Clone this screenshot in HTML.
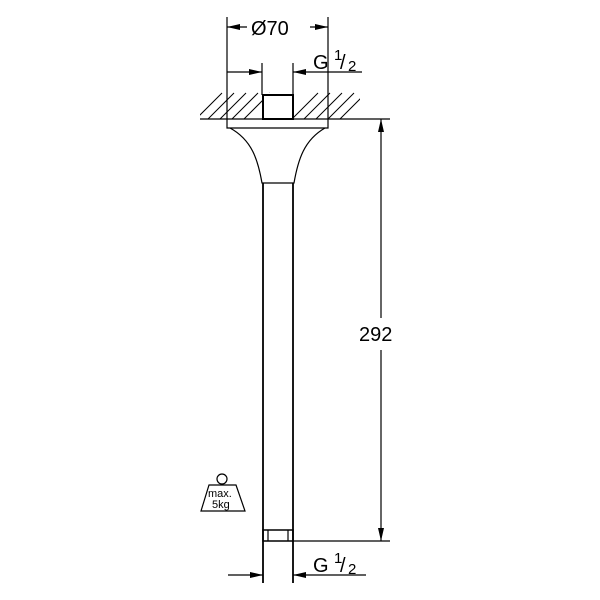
<!DOCTYPE html>
<html><head><style>body{margin:0;background:#fff}svg{display:block}</style></head><body>
<svg width="600" height="600" viewBox="0 0 600 600" xmlns="http://www.w3.org/2000/svg" font-family="Liberation Sans, sans-serif">
<defs>
<clipPath id="hc"><rect x="200" y="92" width="160" height="27"/></clipPath>
</defs>
<g stroke="#000" fill="none" stroke-width="1.2">
<g clip-path="url(#hc)" stroke-width="1">
<path d="M196,119l26,-26M208,119l26,-26M220,119l26,-26M232,119l26,-26M244,119l26,-26M292,119l26,-26M304,119l26,-26M316,119l26,-26M328,119l26,-26M340,119l26,-26"/>
</g>
<rect x="262" y="93" width="31" height="27" fill="#fff" stroke="none"/>
<line x1="200" y1="119" x2="390" y2="119"/>
<rect x="263" y="95" width="30" height="24" stroke-width="2"/>
<path d="M227,119V128H328V119"/>
<path d="M230,128C252,140 258,160 262,183H294C298,160 304,140 325,128"/>
<line x1="263" y1="183" x2="263" y2="583" stroke-width="1.8"/>
<line x1="293" y1="183" x2="293" y2="583" stroke-width="1.8"/>
<rect x="263" y="530" width="30" height="11" stroke-width="1.5"/>
<line x1="268" y1="530" x2="268" y2="541"/><line x1="288" y1="530" x2="288" y2="541"/>
<line x1="293" y1="541" x2="390" y2="541"/>
<line x1="227" y1="17" x2="227" y2="119"/><line x1="328" y1="17" x2="328" y2="119"/>
<line x1="262" y1="63" x2="262" y2="95"/><line x1="293" y1="63" x2="293" y2="95"/>
<line x1="227" y1="27" x2="247" y2="27"/><line x1="310" y1="27" x2="328" y2="27"/>
<line x1="227" y1="72" x2="262" y2="72"/><line x1="293" y1="72" x2="362" y2="72"/>
<line x1="228" y1="575" x2="263" y2="575"/><line x1="293" y1="575" x2="366" y2="575"/>
<line x1="381" y1="119" x2="381" y2="318"/><line x1="381" y1="350" x2="381" y2="541"/>
</g>
<g fill="#000">
<path d="M227,27l13,-3v6z"/><path d="M328,27l-13,-3v6z"/>
<path d="M262,72l-13,-3v6z"/><path d="M293,72l13,-3v6z"/>
<path d="M263,575l-13,-3v6z"/><path d="M293,575l13,-3v6z"/>
<path d="M381,119l-3,13h6z"/><path d="M381,541l-3,-13h6z"/>
</g>
<g font-size="20">
<text x="251" y="35">Ø70</text>
<text x="313" y="69">G</text><text x="334" y="60" font-size="15">1</text><text x="340" y="69">/</text><text x="348" y="71" font-size="15">2</text>
<text x="313" y="572">G</text><text x="334" y="563" font-size="15">1</text><text x="340" y="572">/</text><text x="348" y="574" font-size="15">2</text>
<text x="359" y="341">292</text>
</g>
<g stroke="#000" fill="none" stroke-width="1.2">
<circle cx="222" cy="479" r="5"/>
<path d="M209,485H236L245,511H201Z"/>
</g>
<text x="208" y="497" font-size="11">max.</text>
<text x="212" y="508" font-size="11">5kg</text>
</svg>
</body></html>
